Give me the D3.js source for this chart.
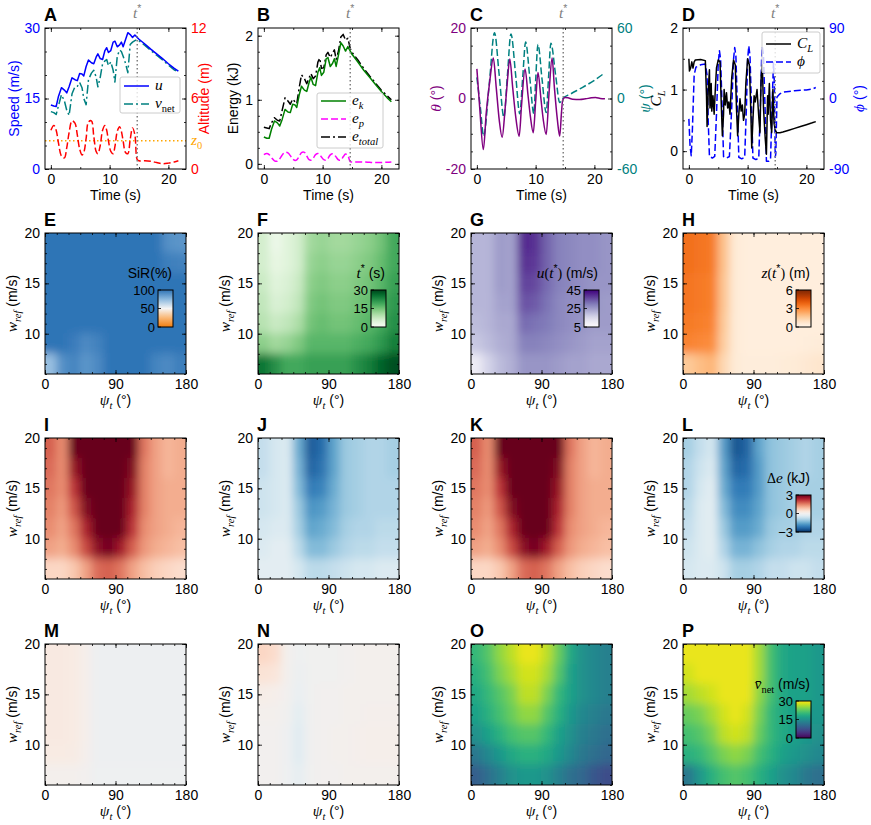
<!DOCTYPE html>
<html>
<head>
<meta charset="utf-8">
<script src="https://cdn.jsdelivr.net/npm/d3@7"></script>
<style>
  body { margin: 0; background: #fff; }
</style>
</head>
<body>
<svg id="fig" width="871" height="825"></svg>
<script>
const FONT = "Liberation Sans, Arial, sans-serif";
const MATH = "Liberation Serif, DejaVu Serif, serif";
const FS = 14;

// ---- top row data ----
const tStar = 14.7;
const z0 = 2.4;
const timeAB = [0,0.5,0.9,1.3,1.8,2.3,2.7,3.1,3.6,4.1,4.5,4.9,5.3,5.6,6.0,6.4,6.9,7.3,7.7,8.0,8.4,8.8,9.2,9.5,9.8,10.2,10.6,10.9,11.3,11.7,12.0,12.3,12.7,13.1,13.5,13.9,14.3,14.7,15,16,17,18,19,20,21,21.7];
const speedU = [13.6,13.4,13.3,15.5,17.3,16.8,16.2,17.5,19.4,19.0,18.8,20.3,20.2,19.8,21.8,23.2,22.6,22.4,23.8,24.5,23.5,23.3,25.2,25.8,24.8,25.2,27.0,27.2,26.0,26.4,27.0,26.0,27.5,29.0,28.6,28.0,28.5,28.0,27.6,26.6,25.5,24.5,23.5,22.4,21.4,20.8];
const speedVnet = [12.2,12.0,11.6,13.5,15.8,14.5,12.5,11.4,16.0,17.5,17.6,18.4,17.3,15.0,13.7,19.0,20.4,21.0,19.6,17.5,19.5,22.4,23.0,23.3,22.0,22.8,21.0,18.5,24.0,25.3,25.0,24.0,22.5,20.5,26.5,27.0,27.3,27.6,27.3,26.3,25.2,24.2,23.2,22.1,21.1,20.5];
const altitude = [3.3,3.7,3.3,2.2,1.1,0.95,1.8,3.1,4.1,3.9,2.9,1.7,1.2,1.4,2.6,4.0,4.1,2.8,1.5,1.3,2.0,3.3,3.7,3.3,2.4,1.5,1.3,1.9,3.2,3.6,3.2,2.4,1.4,1.3,2.5,3.5,2.9,0.8,0.7,0.7,0.65,0.55,0.45,0.5,0.6,0.7];
const energyK = [0.42,0.40,0.40,0.54,0.67,0.64,0.59,0.69,0.85,0.81,0.80,0.93,0.92,0.88,1.07,1.21,1.15,1.13,1.27,1.35,1.24,1.22,1.43,1.50,1.38,1.43,1.64,1.66,1.52,1.57,1.64,1.52,1.70,1.89,1.84,1.76,1.83,1.76,1.71,1.59,1.46,1.35,1.24,1.13,1.03,0.97];
const energyP = [0.145,0.163,0.145,0.097,0.048,0.042,0.079,0.136,0.18,0.172,0.128,0.075,0.053,0.062,0.114,0.176,0.18,0.123,0.066,0.057,0.088,0.145,0.163,0.145,0.106,0.066,0.057,0.084,0.141,0.158,0.141,0.106,0.062,0.057,0.11,0.154,0.128,0.035,0.031,0.031,0.029,0.024,0.02,0.022,0.026,0.031];
const energyTotal = [0.57,0.56,0.55,0.64,0.72,0.68,0.67,0.83,1.03,0.98,0.93,1.01,0.97,0.94,1.18,1.39,1.33,1.25,1.34,1.41,1.33,1.37,1.59,1.65,1.49,1.50,1.70,1.74,1.66,1.73,1.78,1.63,1.76,1.98,2.02,1.93,1.96,1.80,1.74,1.62,1.49,1.37,1.26,1.15,1.06,1.00];

const pitchTheta = [[0,8.4],[0.5,-3],[1.1,-14.5],[1.6,-4],[2.2,5],[2.8,11.5],[3.3,3],[3.8,-6],[4.3,-11],[4.8,-3],[5.2,5],[5.6,11.2],[6.1,3],[6.6,-5],[7.2,-10.7],[7.6,-2],[8.2,8.4],[8.7,1],[9.1,-5],[9.6,-9.7],[10.0,-1],[10.4,7.4],[10.9,0],[11.3,-6],[11.8,-10.2],[12.3,2],[12.8,11.5],[13.2,3],[13.7,-6],[14.1,-10.7],[14.4,-4],[14.6,-0.5],[15.0,0.3],[15.5,0.2],[16.3,-0.2],[17.5,-0.3],[18.5,-0.1],[19.5,0.2],[20.2,0.3],[21,0],[21.8,-0.1]];
const headingPsi = [[0,18],[0.6,-8],[1.15,-32],[2.1,12],[3.0,56],[3.8,20],[4.6,-16],[5.2,20],[5.8,55],[6.6,20],[7.3,-13],[7.8,18],[8.3,48],[9.0,18],[9.7,-13],[10.0,15],[10.4,46],[11.1,16],[11.8,-12],[12.2,18],[12.6,47],[13.4,20],[14.1,-3.4],[14.5,-0.5],[16,4],[18,9.5],[20,15.5],[21.8,22]];

const liftCL = [[0,1.5],[0.1,1.3],[0.3,1.35],[0.5,1.45],[0.7,1.35],[0.9,1.45],[1.1,1.48],[2.0,1.49],[2.8,1.47],[3.0,0.9],[3.1,0.4],[3.3,1.0],[3.5,1.32],[3.6,0.7],[3.8,1.1],[3.9,0.65],[4.1,0.9],[4.3,0.6],[4.5,1.0],[4.7,1.35],[5.0,1.48],[5.3,1.45],[5.5,0.8],[5.7,0.25],[5.9,0.6],[6.0,1.0],[6.2,0.75],[6.4,0.95],[6.6,0.7],[6.8,0.8],[7.0,0.6],[7.3,1.2],[7.6,1.48],[7.9,1.4],[8.1,0.7],[8.3,0.25],[8.5,0.6],[8.7,0.85],[8.9,0.65],[9.1,0.75],[9.3,0.5],[9.5,0.6],[9.7,1.1],[10.0,1.5],[10.3,1.4],[10.5,0.8],[10.7,0.05],[10.9,0.5],[11.1,0.9],[11.3,0.8],[11.6,1.0],[11.9,0.55],[12.1,0.3],[12.3,1.2],[12.5,1.4],[12.7,0.7],[13.0,0.2],[13.2,-0.05],[13.4,0.9],[13.5,0.6],[13.7,1.1],[13.9,0.5],[14.1,0.3],[14.3,1.0],[14.5,0.45],[14.7,0.35],[14.9,0.3],[15.5,0.3],[16,0.31],[17,0.34],[18,0.37],[19,0.4],[20,0.43],[21,0.46],[21.6,0.48]];
const bankPhi = [[0,-26],[0.2,-60],[0.4,-73],[0.6,-40],[0.9,30],[1.2,40],[2.0,43],[2.8,44],[3.1,30],[3.3,-30],[3.5,-74],[4.0,-76],[4.4,-74],[4.7,-20],[5.0,45],[5.2,61],[5.4,50],[5.7,-20],[5.9,-74],[6.4,-76],[6.9,-74],[7.3,-10],[7.6,50],[7.8,65],[8.0,55],[8.3,-20],[8.5,-75],[9.0,-77],[9.5,-75],[9.8,-10],[10.0,50],[10.2,67],[10.4,55],[10.7,-20],[10.9,-76],[11.4,-78],[11.9,-76],[12.2,0],[12.4,55],[12.5,66],[12.7,55],[13.0,-20],[13.2,-80],[13.6,-80],[13.9,-78],[14.2,0],[14.4,46],[14.55,20],[14.7,-75],[14.8,-70],[15.0,2],[15.5,6],[16,8],[17,9],[18,10],[19,10.5],[20,11],[21,12],[21.6,14]];

// ---- heat map data: rows w_ref = 19..7 (top to bottom), columns psi_t = 7.5..172.5 ----
const psiT = [7.5,22.5,37.5,52.5,67.5,82.5,97.5,112.5,127.5,142.5,157.5,172.5];
const wRef = [19,17,15,13,11,9,7];
const sirPct = [
  [100,100,100,100,100,100,100,100,100,100,90,88],
  [100,100,100,100,100,100,100,100,100,100,96,95],
  [100,100,100,100,100,100,100,100,100,100,100,100],
  [100,100,100,100,100,100,100,100,100,100,100,100],
  [100,100,100,100,100,100,100,100,100,100,100,100],
  [100,100,97,92,95,100,100,100,100,100,100,100],
  [72,90,94,88,92,100,100,100,100,94,92,96]];
const tStarMap = [
  [6,2,4,6,11,12,11,11,12,13,15,19],
  [6,3,4,6,12,13,12,12,13,14,16,19],
  [7,4,5,7,13,14,13,13,14,15,17,20],
  [8,5,6,8,14,15,14,14,15,16,18,21],
  [9,7,8,10,15,16,15,15,16,17,19,22],
  [13,11,12,14,17,17,17,17,18,19,21,24],
  [25,22,19,19,20,20,20,20,22,24,27,29]];
const uStarMap = [
  [21,21,25,24,40,39,33,29,28,27,27,26],
  [21,21,25,24,39,38,33,29,28,27,27,26],
  [21,21,25,24,37,36,32,29,28,27,26,26],
  [21,21,24,24,35,34,31,28,27,27,26,25],
  [20,21,23,23,32,31,30,28,27,26,25,25],
  [18,20,22,23,29,29,28,27,26,25,24,24],
  [10,16,20,22,26,26,26,25,24,24,23,23]];
const zStarMap = [
  [3.6,3.5,3.4,1.8,0.5,0.35,0.35,0.35,0.35,0.35,0.35,0.35],
  [3.6,3.5,3.4,1.8,0.5,0.35,0.35,0.35,0.35,0.35,0.35,0.35],
  [3.5,3.4,3.3,1.7,0.5,0.35,0.35,0.35,0.35,0.35,0.35,0.35],
  [3.5,3.4,3.3,1.7,0.5,0.35,0.35,0.35,0.35,0.35,0.35,0.35],
  [3.4,3.3,3.2,1.6,0.5,0.35,0.35,0.35,0.35,0.35,0.35,0.35],
  [3.2,3.1,3.0,1.5,0.5,0.35,0.35,0.35,0.35,0.35,0.4,0.45],
  [1.6,1.9,2.1,1.2,0.5,0.4,0.4,0.4,0.45,0.5,0.6,0.7]];
const deltaI = [
  [1.8,1.4,3.0,3.5,3.5,3.5,3.5,3.0,1.6,1.2,1.0,1.1],
  [1.7,1.4,2.6,3.5,3.5,3.5,3.5,2.8,1.5,1.2,1.0,1.1],
  [1.6,1.4,2.2,3.3,3.5,3.5,3.5,2.6,1.5,1.2,1.1,1.1],
  [1.5,1.3,1.9,2.8,3.5,3.5,3.4,2.4,1.5,1.2,1.1,1.1],
  [1.4,1.2,1.6,2.4,3.4,3.5,3.1,2.2,1.4,1.2,1.1,1.0],
  [1.2,1.1,1.4,2.0,2.7,2.9,2.5,1.8,1.3,1.1,1.0,0.9],
  [0.6,0.6,0.8,1.2,1.7,1.8,1.6,1.2,0.9,0.7,0.6,0.5]];
const deltaJ = [
  [-0.7,-0.5,-0.4,-1.5,-2.5,-2.3,-1.6,-1.1,-1.0,-0.9,-0.9,-1.0],
  [-0.7,-0.5,-0.4,-1.4,-2.4,-2.2,-1.6,-1.1,-1.0,-0.9,-0.9,-1.0],
  [-0.6,-0.5,-0.4,-1.3,-2.1,-2.0,-1.5,-1.1,-1.0,-0.9,-0.9,-0.9],
  [-0.6,-0.5,-0.4,-1.1,-1.8,-1.7,-1.4,-1.1,-1.0,-0.9,-0.9,-0.9],
  [-0.5,-0.4,-0.4,-1.0,-1.6,-1.5,-1.3,-1.0,-0.9,-0.9,-0.8,-0.8],
  [-0.4,-0.3,-0.3,-0.8,-1.3,-1.3,-1.1,-0.9,-0.8,-0.8,-0.7,-0.7],
  [-0.3,-0.3,-0.3,-0.5,-0.8,-0.8,-0.7,-0.6,-0.5,-0.5,-0.4,-0.4]];
const deltaK = [
  [1.8,1.4,3.0,3.5,3.5,3.5,3.5,3.0,1.6,1.2,1.0,1.1],
  [1.7,1.4,2.6,3.5,3.5,3.5,3.5,2.8,1.5,1.2,1.0,1.1],
  [1.6,1.4,2.2,3.3,3.5,3.5,3.5,2.6,1.5,1.2,1.1,1.1],
  [1.5,1.3,1.9,2.8,3.5,3.5,3.4,2.4,1.5,1.2,1.1,1.1],
  [1.4,1.2,1.6,2.4,3.4,3.5,3.1,2.2,1.4,1.2,1.1,1.0],
  [1.2,1.1,1.4,2.0,2.7,2.9,2.5,1.8,1.3,1.1,1.0,0.9],
  [0.6,0.6,0.8,1.2,1.7,1.8,1.6,1.2,0.9,0.7,0.6,0.5]];
const deltaL = [
  [-1.0,-0.7,-0.5,-1.7,-2.6,-2.4,-1.6,-1.2,-1.1,-1.0,-0.9,-1.0],
  [-0.9,-0.6,-0.4,-1.6,-2.4,-2.3,-1.7,-1.2,-1.1,-1.0,-0.9,-1.0],
  [-0.9,-0.5,-0.3,-1.5,-2.1,-2.1,-1.7,-1.2,-1.1,-1.0,-1.0,-1.0],
  [-0.8,-0.4,-0.3,-1.3,-1.9,-1.9,-1.6,-1.2,-1.1,-1.0,-1.0,-1.0],
  [-0.7,-0.4,-0.3,-1.1,-1.7,-1.7,-1.5,-1.1,-1.0,-1.0,-0.9,-0.9],
  [-0.6,-0.4,-0.3,-0.9,-1.4,-1.4,-1.2,-1.0,-0.9,-0.9,-0.8,-0.8],
  [-0.5,-0.4,-0.4,-0.6,-1.0,-1.0,-0.9,-0.7,-0.7,-0.6,-0.6,-0.7]];
const deltaM = [
  [0.25,0.25,0.22,0.1,-0.12,-0.12,-0.12,-0.12,-0.12,-0.12,-0.12,-0.12],
  [0.25,0.25,0.22,0.1,-0.12,-0.12,-0.12,-0.12,-0.12,-0.12,-0.12,-0.12],
  [0.25,0.25,0.22,0.1,-0.12,-0.12,-0.12,-0.12,-0.12,-0.12,-0.12,-0.12],
  [0.25,0.25,0.22,0.1,-0.12,-0.12,-0.12,-0.12,-0.12,-0.12,-0.12,-0.12],
  [0.25,0.25,0.22,0.1,-0.12,-0.12,-0.12,-0.12,-0.12,-0.12,-0.12,-0.12],
  [0.22,0.22,0.2,0.08,-0.12,-0.12,-0.12,-0.12,-0.12,-0.12,-0.12,-0.12],
  [0.05,0.05,0.05,0.0,-0.1,-0.1,-0.1,-0.1,-0.1,-0.1,-0.1,-0.1]];
const deltaN = [
  [0.6,0.5,0.05,-0.1,-0.05,-0.05,-0.05,0,0.05,0.05,0.05,0.05],
  [0.4,0.35,0.05,-0.15,-0.05,-0.05,-0.05,0,0.05,0.05,0.05,0.05],
  [0.15,0.1,0.0,-0.2,-0.05,0,0,0.05,0.05,0.05,0.05,0.05],
  [0.05,0.05,-0.05,-0.3,-0.05,0,0,0.05,0.05,0.08,0.08,0.08],
  [0,0,-0.1,-0.35,-0.05,0,0.05,0.05,0.08,0.1,0.1,0.1],
  [0,0,-0.1,-0.35,-0.05,0,0.05,0.05,0.08,0.1,0.1,0.1],
  [0,0,-0.1,-0.25,-0.05,0,0,0.05,0.05,0.05,0.05,0.05]];
const vNetO = [
  [20,22,25,27,29,29,27,23,18,15,14,13],
  [19,21,24,26,28,28,26,22,17,15,14,13],
  [18,20,22,24,27,27,24,20,17,15,14,13],
  [17,19,21,23,25,25,22,19,16,14,13,12],
  [15,17,19,21,22,22,20,17,15,13,12,11],
  [12,14,16,18,19,19,18,16,14,12,11,10],
  [9,11,13,15,16,16,15,13,11,10,8,7]];
const vNetP = [
  [29,29,29,29,29,29,26,21,18,17,17,16],
  [28,29,29,29,29,29,26,21,18,17,17,16],
  [26,27,28,29,29,29,25,21,18,17,17,16],
  [23,24,26,28,29,28,24,20,18,17,16,16],
  [21,22,24,27,28,27,23,20,18,17,16,15],
  [19,20,22,24,25,24,21,19,17,16,15,14],
  [12,16,19,21,22,21,19,17,15,14,12,11]];

// ---- layout ----
const W = 141, H = 141;
const colX = [45, 258, 471, 683];
const rowY = [28, 233, 438, 644];

const svg = d3.select("#fig");
const defs = svg.append("defs");
defs.append("clipPath").attr("id", "plotClip").append("rect").attr("width", W).attr("height", H);
defs.append("filter").attr("id", "smooth")
    .attr("x", -0.2).attr("y", -0.2).attr("width", 1.4).attr("height", 1.4)
    .append("feGaussianBlur").attr("stdDeviation", "4 5");

// text with italic math pieces, sub/superscripts
function rich(sel, parts, size) {
    let shift = 0;
    parts.forEach(p => {
        const ts = sel.append("tspan").text(p.t);
        const want = p.sub ? size * 0.3 : p.sup ? -size * 0.4 : 0;
        if (want !== shift) { ts.attr("dy", want - shift); shift = want; }
        if (p.sub || p.sup) ts.attr("font-size", size * 0.75);
        else if (p.m) ts.attr("font-size", size * 1.1);
        if (p.m) ts.attr("font-family", MATH).attr("font-style", "italic");
        if (p.r) ts.attr("font-family", MATH);
    });
    return sel;
}

function label(g, x, y, parts, opts = {}) {
    const size = opts.size || FS;
    const t = g.append("text").attr("x", x).attr("y", y)
        .attr("font-family", FONT).attr("font-size", size)
        .attr("fill", opts.color || "#000")
        .attr("text-anchor", opts.anchor || "middle");
    if (opts.rotate) t.attr("transform", `rotate(-90,${x},${y})`);
    return rich(t, parts, size);
}

function ticks(g, fn, scale, major, minor, tr, lab) {
    const mk = (vals, size, show) => {
        const a = g.append("g").attr("transform", tr);
        a.call(fn(scale).tickValues(vals).tickSize(-size).tickPadding(5)
            .tickFormat(show ? (lab.fmt || (d => String(d))) : ""));
        a.select(".domain").remove();
        a.selectAll("line").attr("stroke", "#000").attr("stroke-width", 0.8);
        a.selectAll("text").attr("font-size", FS).attr("font-family", FONT)
            .attr("fill", (lab && lab.color) || "#000");
    };
    mk(minor, 2, false);
    mk(major, 4, !!lab);
}

function letter(g, s) {
    g.append("text").attr("x", -1).attr("y", -7).attr("font-family", FONT)
        .attr("font-weight", "bold").attr("font-size", 18).text(s);
}

function frame(g) {
    g.append("rect").attr("width", W).attr("height", H)
        .attr("fill", "none").attr("stroke", "#000").attr("stroke-width", 1);
}

function legend(g, x, y, w, h, items) {
    g.append("rect").attr("x", x).attr("y", y).attr("width", w).attr("height", h).attr("rx", 2)
        .attr("fill", "#fff").attr("fill-opacity", 0.8).attr("stroke", "#cccccc");
    items.forEach(it => {
        g.append("line").attr("x1", x + 4).attr("x2", x + 29).attr("y1", y + it.dy).attr("y2", y + it.dy)
            .attr("stroke", it.color).attr("stroke-width", 1.5).attr("stroke-dasharray", it.dash || null);
        label(g, x + 35, y + it.dy + 4, it.label, { anchor: "start" });
    });
}

// ---- top row ----
const xT = d3.scaleLinear().domain([-1, 23]).range([0, W]);
const tMajor = [0, 10, 20], tMinor = [0, 5, 10, 15, 20];
const DASH = "7,3", DASHDOT = "9,3,2,3", DOT = "1.5,2.5";

function topPanel(j, s) {
    const g = svg.append("g").attr("transform", `translate(${colX[j]},${rowY[0]})`);
    letter(g, s);
    return g;
}
function drawLine(g, pts, y, color, dash, curve) {
    g.append("path").datum(pts)
        .attr("d", d3.line().x(d => xT(d[0])).y(d => y(d[1])).curve(curve || d3.curveLinear))
        .attr("fill", "none").attr("stroke", color).attr("stroke-width", 1.5)
        .attr("stroke-dasharray", dash || null).attr("stroke-linejoin", "round");
}
function starLine(g) {
    g.append("line").attr("x1", xT(tStar)).attr("x2", xT(tStar)).attr("y1", 0).attr("y2", H)
        .attr("stroke", "gray").attr("stroke-width", 1.5).attr("stroke-dasharray", DOT);
    label(g, xT(tStar), -10, [{ t: "t", m: 1 }, { t: "*", sup: 1 }], { color: "gray" });
}
function timeAxes(g) {
    ticks(g, d3.axisBottom, xT, tMajor, tMinor, `translate(0,${H})`, {});
    ticks(g, d3.axisTop, xT, tMajor, tMinor, null, null);
    label(g, W / 2, H + 31, [{ t: "Time (s)" }]);
}
const pick = arr => timeAB.map((t, k) => [t, arr[k]]);

// A
{
    const g = topPanel(0, "A");
    const yL = d3.scaleLinear().domain([0, 30]).range([H, 0]);
    const yR = d3.scaleLinear().domain([0, 12]).range([H, 0]);
    g.append("line").attr("x1", 0).attr("x2", W).attr("y1", yR(z0)).attr("y2", yR(z0))
        .attr("stroke", "orange").attr("stroke-width", 1.5).attr("stroke-dasharray", DOT);
    drawLine(g, pick(altitude), yR, "red", DASH, d3.curveCatmullRom);
    drawLine(g, pick(speedVnet), yL, "teal", DASHDOT);
    drawLine(g, pick(speedU), yL, "blue");
    starLine(g);
    legend(g, 75, 49, 60, 36, [
        { dy: 9, color: "blue", label: [{ t: "u", m: 1 }] },
        { dy: 27, color: "teal", dash: DASHDOT, label: [{ t: "v", m: 1 }, { t: "net", sub: 1, r: 1 }] }]);
    timeAxes(g);
    ticks(g, d3.axisLeft, yL, [0, 15, 30], d3.range(0, 31, 5), null, { color: "blue" });
    ticks(g, d3.axisRight, yR, [0, 6, 12], d3.range(0, 13, 2), `translate(${W},0)`, { color: "red" });
    label(g, W + 5, yR(z0) + 4, [{ t: "z", m: 1 }, { t: "0", sub: 1, r: 1 }], { anchor: "start", color: "orange" });
    frame(g);
    label(g, -26, H / 2, [{ t: "Speed (m/s)" }], { rotate: 1, color: "blue" });
    label(g, W + 23, H / 2, [{ t: "Altitude (m)" }], { rotate: 1, color: "red" });
}
// B
{
    const g = topPanel(1, "B");
    const y = d3.scaleLinear().domain([-0.08, 2.12]).range([H, 0]);
    drawLine(g, pick(energyP), y, "magenta", DASH, d3.curveCatmullRom);
    drawLine(g, pick(energyTotal), y, "black", DASHDOT);
    drawLine(g, pick(energyK), y, "green");
    starLine(g);
    legend(g, 59, 65, 66, 55, [
        { dy: 8, color: "green", label: [{ t: "e", m: 1 }, { t: "k", sub: 1, m: 1 }] },
        { dy: 26, color: "magenta", dash: DASH, label: [{ t: "e", m: 1 }, { t: "p", sub: 1, m: 1 }] },
        { dy: 44, color: "black", dash: DASHDOT, label: [{ t: "e", m: 1 }, { t: "total", sub: 1, m: 1 }] }]);
    timeAxes(g);
    const mn = d3.range(0, 2.01, 0.25);
    ticks(g, d3.axisLeft, y, [0, 1, 2], mn, null, {});
    ticks(g, d3.axisRight, y, [0, 1, 2], mn, `translate(${W},0)`, null);
    frame(g);
    label(g, -20, H / 2, [{ t: "Energy (kJ)" }], { rotate: 1 });
}
// C
{
    const g = topPanel(2, "C");
    const yL = d3.scaleLinear().domain([-20, 20]).range([H, 0]);
    const yR = d3.scaleLinear().domain([-60, 60]).range([H, 0]);
    drawLine(g, headingPsi, yR, "teal", DASH, d3.curveMonotoneX);
    drawLine(g, pitchTheta, yL, "purple", null, d3.curveMonotoneX);
    starLine(g);
    timeAxes(g);
    ticks(g, d3.axisLeft, yL, [-20, 0, 20], d3.range(-20, 21, 5), null, { color: "purple" });
    ticks(g, d3.axisRight, yR, [-60, 0, 60], d3.range(-60, 61, 15), `translate(${W},0)`, { color: "teal" });
    frame(g);
    label(g, -30, H / 2, [{ t: "θ", m: 1 }, { t: " (°)" }], { rotate: 1, color: "purple" });
    label(g, W + 38, H / 2, [{ t: "ψ", m: 1 }, { t: " (°)" }], { rotate: 1, color: "teal" });
}
// D
{
    const g = topPanel(3, "D");
    const yL = d3.scaleLinear().domain([-0.29, 2]).range([H, 0]);
    const yR = d3.scaleLinear().domain([-90, 90]).range([H, 0]);
    drawLine(g, bankPhi, yR, "blue", DASH);
    drawLine(g, liftCL, yL, "black");
    starLine(g);
    legend(g, 79, 4, 58, 41, [
        { dy: 12, color: "black", label: [{ t: "C", m: 1 }, { t: "L", sub: 1, m: 1 }] },
        { dy: 30, color: "blue", dash: DASH, label: [{ t: "ϕ", m: 1 }] }]);
    timeAxes(g);
    ticks(g, d3.axisLeft, yL, [0, 1, 2], [0, 0.5, 1, 1.5, 2], null, {});
    ticks(g, d3.axisRight, yR, [-90, 0, 90], d3.range(-90, 91, 22.5), `translate(${W},0)`, { color: "blue" });
    frame(g);
    label(g, -22, H / 2, [{ t: "C", m: 1 }, { t: "L", sub: 1, m: 1 }], { rotate: 1 });
    label(g, W + 40, H / 2, [{ t: "ϕ", m: 1 }, { t: " (°)" }], { rotate: 1, color: "blue" });
}

// ---- heat maps ----
const xH = d3.scaleLinear().domain([0, 180]).range([0, W]);
const yH = d3.scaleLinear().domain([6, 20]).range([H, 0]);
const rdbu = v => d3.interpolateRdBu(1 - Math.max(0, Math.min(1, (v + 3) / 6)));
const sirColor = d3.scaleLinear().domain([0, 25, 50, 75, 100])
    .range(["#f07e10", "#f9b877", "#f5f5f5", "#8cb9de", "#2f74b6"]).clamp(true);
const clamp01 = v => Math.max(0, Math.min(1, v));

function heatPanel(i, j, s, data, color, cb) {
    const g = svg.append("g").attr("transform", `translate(${colX[j]},${rowY[i]})`);
    letter(g, s);
    const cells = [];
    data.forEach((row, r) => row.forEach((v, c) => {
        let x0 = xH(psiT[c] - 7.5) - 0.5, x1 = xH(psiT[c] + 7.5) + 0.5;
        let y0 = yH(wRef[r] + 1) - 0.5, y1 = yH(wRef[r] - 1) + 0.5;
        if (c === 0) x0 -= 14;
        if (c === psiT.length - 1) x1 += 14;
        if (r === 0) y0 -= 14;
        if (r === wRef.length - 1) y1 += 14;
        cells.push({ x0, x1, y0, y1, v });
    }));
    g.append("g").attr("clip-path", "url(#plotClip)")
        .append("g").attr("filter", "url(#smooth)")
        .selectAll("rect").data(cells).join("rect")
        .attr("x", d => d.x0).attr("y", d => d.y0)
        .attr("width", d => d.x1 - d.x0).attr("height", d => d.y1 - d.y0)
        .attr("fill", d => color(d.v));

    ticks(g, d3.axisBottom, xH, [0, 90, 180], d3.range(0, 181, 15), `translate(0,${H})`, {});
    ticks(g, d3.axisTop, xH, [0, 90, 180], d3.range(0, 181, 15), null, null);
    ticks(g, d3.axisLeft, yH, [10, 15, 20], d3.range(6, 21, 1), null, {});
    ticks(g, d3.axisRight, yH, [10, 15, 20], d3.range(6, 21, 1), `translate(${W},0)`, null);
    frame(g);
    label(g, W / 2, H + 31, [{ t: "ψ", m: 1 }, { t: "t", sub: 1, m: 1 }, { t: " (°)" }]);
    label(g, -28, H / 2, [{ t: "w", m: 1 }, { t: "ref", sub: 1, m: 1 }, { t: " (m/s)" }], { rotate: 1 });

    if (cb) {
        const id = "cb" + s;
        const grad = defs.append("linearGradient").attr("id", id)
            .attr("x1", 0).attr("y1", 1).attr("x2", 0).attr("y2", 0);
        d3.range(0, 1.001, 0.05).forEach(t => grad.append("stop")
            .attr("offset", t).attr("stop-color", color(cb.domain[0] + t * (cb.domain[1] - cb.domain[0]))));
        const cx = 113, cy = 57, cw = 15, ch = 37;
        const yc = d3.scaleLinear().domain(cb.domain).range([cy + ch, cy]);
        g.append("rect").attr("x", cx).attr("y", cy).attr("width", cw).attr("height", ch)
            .attr("fill", `url(#${id})`).attr("stroke", "#000").attr("stroke-width", 1);
        cb.ticks.forEach((v, k) => {
            g.append("line").attr("x1", cx).attr("x2", cx + 3).attr("y1", yc(v)).attr("y2", yc(v))
                .attr("stroke", "#000").attr("stroke-width", 0.8);
            g.append("text").attr("x", cx - 3).attr("y", yc(v)).attr("dy", "0.35em")
                .attr("text-anchor", "end").attr("font-family", FONT).attr("font-size", 13)
                .text(cb.labels[k]);
        });
        label(g, cx + cw - 1, cy - 12, cb.title, { anchor: "end" });
    }
}

heatPanel(1, 0, "E", sirPct, sirColor,
    { domain: [0, 100], ticks: [0, 50, 100], labels: ["0", "50", "100"], title: [{ t: "SiR(%)" }] });
heatPanel(1, 1, "F", tStarMap, v => d3.interpolateGreens(clamp01(v / 30)),
    { domain: [0, 30], ticks: [0, 15, 30], labels: ["0", "15", "30"], title: [{ t: "t", m: 1 }, { t: "*", sup: 1 }, { t: " (s)" }] });
heatPanel(1, 2, "G", uStarMap, v => d3.interpolatePurples(clamp01((v - 5) / 40)),
    { domain: [5, 45], ticks: [5, 25, 45], labels: ["5", "25", "45"], title: [{ t: "u", m: 1 }, { t: "(", r: 1 }, { t: "t", m: 1 }, { t: "*", sup: 1 }, { t: ")", r: 1 }, { t: " (m/s)" }] });
heatPanel(1, 3, "H", zStarMap, v => d3.interpolateOranges(clamp01(v / 6)),
    { domain: [0, 6], ticks: [0, 3, 6], labels: ["0", "3", "6"], title: [{ t: "z", m: 1 }, { t: "(", r: 1 }, { t: "t", m: 1 }, { t: "*", sup: 1 }, { t: ")", r: 1 }, { t: " (m)" }] });
heatPanel(2, 0, "I", deltaI, rdbu, null);
heatPanel(2, 1, "J", deltaJ, rdbu, null);
heatPanel(2, 2, "K", deltaK, rdbu, null);
heatPanel(2, 3, "L", deltaL, rdbu,
    { domain: [-3, 3], ticks: [-3, 0, 3], labels: ["−3", "0", "3"], title: [{ t: "Δ", r: 1 }, { t: "e", m: 1 }, { t: " (kJ)" }] });
heatPanel(3, 0, "M", deltaM, rdbu, null);
heatPanel(3, 1, "N", deltaN, rdbu, null);
heatPanel(3, 2, "O", vNetO, v => d3.interpolateViridis(clamp01(v / 30)), null);
heatPanel(3, 3, "P", vNetP, v => d3.interpolateViridis(clamp01(v / 30)),
    { domain: [0, 30], ticks: [0, 15, 30], labels: ["0", "15", "30"], title: [{ t: "v̄", m: 1 }, { t: "net", sub: 1, r: 1 }, { t: " (m/s)" }] });
</script>
</body>
</html>
